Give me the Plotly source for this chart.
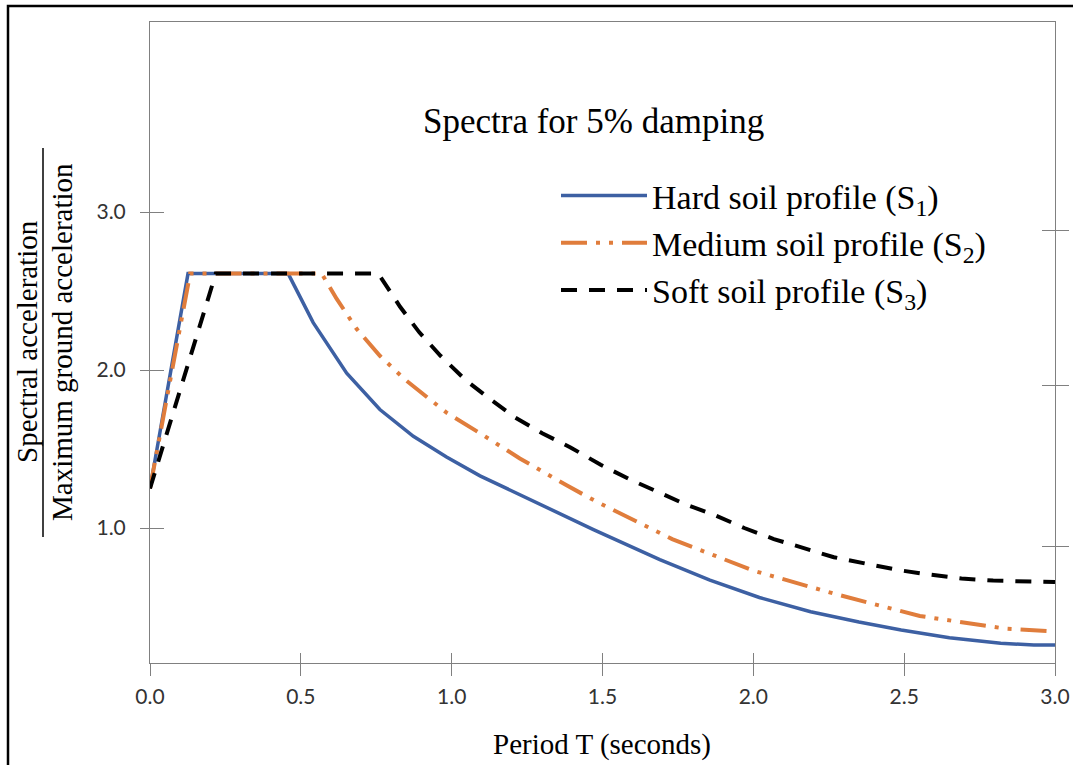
import plotly.graph_objects as go

# ---- data ----
T_hard = [0.0, 0.126, 0.458, 0.541, 0.652, 0.762, 0.873, 0.983, 1.094, 1.249, 1.359, 1.47,
          1.69, 1.856, 2.02, 2.19, 2.35, 2.49, 2.65, 2.82, 2.93, 3.0]
S_hard = [1.25, 2.61, 2.61, 2.30, 1.98, 1.75, 1.58, 1.45, 1.33, 1.19, 1.09, 0.99,
          0.80, 0.67, 0.56, 0.47, 0.405, 0.355, 0.305, 0.27, 0.26, 0.26]

T_med = [0.0, 0.133, 0.569, 0.619, 0.685, 0.762, 0.845, 0.983, 1.094, 1.226, 1.381, 1.477,
         1.731, 2.0, 2.276, 2.552, 2.836, 3.0]
S_med = [1.25, 2.61, 2.61, 2.45, 2.26, 2.09, 1.94, 1.73, 1.60, 1.44, 1.27, 1.17,
         0.93, 0.73, 0.58, 0.443, 0.363, 0.345]

T_soft = [0.0, 0.218, 0.757, 0.795, 0.829, 0.892, 0.963, 1.044, 1.124, 1.21, 1.30, 1.394,
          1.494, 1.588, 1.682, 1.775, 1.874, 1.97, 2.068, 2.168, 2.267, 2.375, 2.48, 2.585,
          2.69, 2.795, 2.9, 3.0]
S_soft = [1.25, 2.61, 2.61, 2.50, 2.40, 2.24, 2.09, 1.94, 1.82, 1.70, 1.60, 1.51,
          1.40, 1.31, 1.23, 1.15, 1.08, 1.00, 0.93, 0.87, 0.815, 0.774, 0.734, 0.705,
          0.68, 0.667, 0.66, 0.658]

x_ticks = [0.0, 0.5, 1.0, 1.5, 2.0, 2.5, 3.0]
y_ticks = [1.0, 2.0, 3.0]
y_ticks_right = [0.886, 1.905, 2.886]

names = ["Hard soil profile (S<sub>1</sub>)",
         "Medium soil profile (S<sub>2</sub>)",
         "Soft soil profile (S<sub>3</sub>)"]

SERIF = "Liberation Serif, Times New Roman, serif"
SANS = "Lato, Open Sans, sans-serif"
AXC = "#808080"

fig = go.Figure()
fig.add_trace(go.Scatter(x=T_hard, y=S_hard, mode="lines", name=names[0],
                         line=dict(color="#3d60a3", width=3.5)))
fig.add_trace(go.Scatter(x=T_med, y=S_med, mode="lines", name=names[1],
                         line=dict(color="#e07d3c", width=4, dash="26px,9px,4px,9px,4px,9px")))
fig.add_trace(go.Scatter(x=T_soft, y=S_soft, mode="lines", name=names[2],
                         line=dict(color="black", width=4, dash="16px,12px")))

# dummy traces to bind the extra tick-only axes
for ax in ["y2", "y3", "y4"]:
    fig.add_trace(go.Scatter(x=[None], y=[None], yaxis=ax, showlegend=False, hoverinfo="skip"))
fig.add_trace(go.Scatter(x=[None], y=[None], xaxis="x2", showlegend=False, hoverinfo="skip"))

yr = [0.1456, 4.2025]
xr = [0.0, 3.0]

tick_only = dict(showticklabels=False, showgrid=False, zeroline=False, showline=False,
                 tickcolor=AXC, tickwidth=1, automargin=False)

fig.update_layout(
    width=1073, height=765, autosize=False,
    margin=dict(l=150, r=18, t=22, b=102, autoexpand=False),
    paper_bgcolor="white", plot_bgcolor="white",
    showlegend=True,
    legend=dict(x=(556 - 150) / 905, y=(663 - 167) / 641, xanchor="left", yanchor="top",
                font=dict(family=SERIF, size=34, color="black"),
                bgcolor="rgba(0,0,0,0)", itemwidth=86, tracegroupgap=0),
    xaxis=dict(range=xr, tickvals=x_ticks, tickformat=".1f", showgrid=False, zeroline=False,
               showline=True, linecolor=AXC, linewidth=1, mirror=True, automargin=False,
               ticks="outside", ticklen=12, tickcolor=AXC, tickwidth=1,
               tickfont=dict(family=SANS, size=21, color="#333333"), ticklabelstandoff=3),
    xaxis2=dict(range=xr, overlaying="x", side="bottom", anchor="y", tickvals=x_ticks,
                ticks="inside", ticklen=10, **tick_only),
    yaxis=dict(range=yr, tickvals=y_ticks, tickformat=".1f", showgrid=False, zeroline=False,
               showline=True, linecolor=AXC, linewidth=1, mirror=True, automargin=False,
               ticks="outside", ticklen=9, tickcolor=AXC, tickwidth=1,
               tickfont=dict(family=SANS, size=21, color="#333333"), ticklabelstandoff=10),
    yaxis2=dict(range=yr, overlaying="y", side="left", anchor="x", tickvals=y_ticks,
                ticks="inside", ticklen=14, **tick_only),
    yaxis3=dict(range=yr, overlaying="y", side="right", anchor="x", tickvals=y_ticks_right,
                ticks="outside", ticklen=13, **tick_only),
    yaxis4=dict(range=yr, overlaying="y", side="right", anchor="x", tickvals=y_ticks_right,
                ticks="inside", ticklen=13, **tick_only),
)

annotations = [
    dict(text="Spectra for 5% damping", x=(593 - 150) / 905, y=(663 - 121) / 641,
         xref="paper", yref="paper", xanchor="center", yanchor="middle", showarrow=False,
         font=dict(family=SERIF, size=35, color="black")),
    dict(text="Period T (seconds)", x=(602 - 150) / 905, y=(663 - 744) / 641,
         xref="paper", yref="paper", xanchor="center", yanchor="middle", showarrow=False,
         font=dict(family=SERIF, size=29, color="black")),
    dict(text="Spectral acceleration", x=(27 - 150) / 905, y=(663 - 342) / 641, textangle=-90,
         xref="paper", yref="paper", xanchor="center", yanchor="middle", showarrow=False,
         font=dict(family=SERIF, size=29, color="black")),
    dict(text="Maximum ground acceleration", x=(62 - 150) / 905, y=(663 - 342) / 641, textangle=-90,
         xref="paper", yref="paper", xanchor="center", yanchor="middle", showarrow=False,
         font=dict(family=SERIF, size=29, color="black")),
]
fig.update_layout(annotations=annotations)

shapes = [
    # fraction bar of the y title
    dict(type="line", xref="paper", yref="paper",
         x0=(43 - 150) / 905, x1=(43 - 150) / 905, y0=(663 - 537) / 641, y1=(663 - 148) / 641,
         line=dict(color="black", width=1.5)),
    # outer frame
    dict(type="rect", xref="paper", yref="paper",
         x0=(8 - 150) / 905, x1=1.06, y0=-0.3, y1=(663 - 6) / 641,
         line=dict(color="black", width=2.5), fillcolor="rgba(0,0,0,0)", layer="above"),
]
fig.update_layout(shapes=shapes)

fig.write_html("out.html")
